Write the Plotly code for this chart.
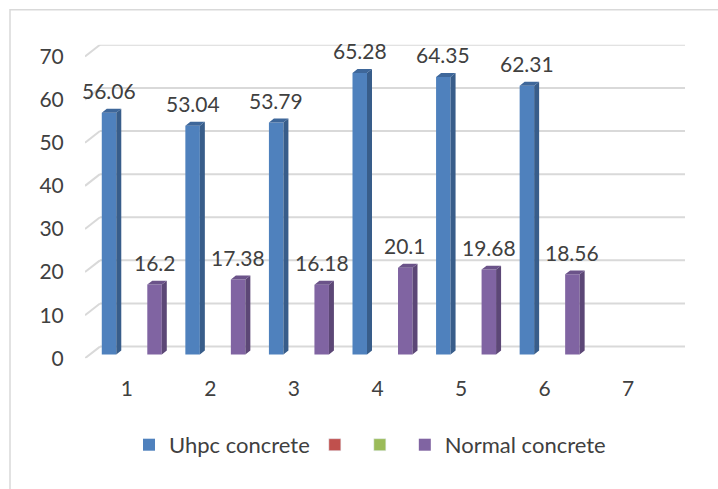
import plotly.graph_objects as go

# ---- data -------------------------------------------------------------
categories = [1, 2, 3, 4, 5, 6, 7]
tick_labels = ["1", "2", "3", "4", "5", "6", "7"]
uhpc_values = [56.06, 53.04, 53.79, 65.28, 64.35, 62.31, None]
normal_values = [16.2, 17.38, 16.18, 20.1, 19.68, 18.56, None]
series2_values = [None, None, None, None, None, None, None]
series3_values = [None, None, None, None, None, None, None]
y_ticks = [0, 10, 20, 30, 40, 50, 60, 70]

# ---- figure geometry (pixels) -----------------------------------------
W, H = 718, 489
front_left, back_right = 85, 685          # x pixels of plot floor
front_zero, back_top = 366, 44            # y pixels of value 0 (front) / 70 (back)
depth_px = (15, 12)                       # floor depth: right / up
bar_plane_px = (5, 4)                     # bars sit part way into the depth

x_min = 0.5
x_max_front = 7.5
px_per_x = (back_right - front_left - depth_px[0]) / (x_max_front - x_min)
px_per_y = (front_zero - (back_top + depth_px[1])) / 70.0

dx_back = depth_px[0] / px_per_x
dy_back = depth_px[1] / px_per_y
dx_bar = bar_plane_px[0] / px_per_x
dy_bar = bar_plane_px[1] / px_per_y

slot = 15.17 / px_per_x                   # width of one series slot
face_w = 14.5 / px_per_x                  # visible front face width
n_series = 4

x_range = [x_min, x_max_front + dx_back]
y_range = [0, 70 + dy_back]

BLUE = ["#4f81bd", "#385d8a", "#3e679a"]      # front, side, top
PURPLE = ["#8064a2", "#5c4776", "#6b5389"]
RED = "#c0504d"
GREEN = "#9bbb59"
TEXT = "#404040"
GRID = "#d9d9d9"
FONT = "Lato"

fig = go.Figure()


def series_offset(idx):
    # centre of series idx inside a category group, shifted into the bar plane
    return (idx - (n_series - 1) / 2) * slot + dx_bar


def add_series(name, values, idx, colors):
    xs = [c for c, v in zip(categories, values) if v is not None]
    ys = [v for v in values if v is not None]
    off = series_offset(idx)
    fig.add_trace(go.Bar(
        x=xs, y=ys, base=[dy_bar] * len(ys), name=name,
        width=face_w, offset=off - face_w / 2,
        marker=dict(color=colors[0], line=dict(width=0)),
        showlegend=True,
    ))
    # right-hand side faces and top caps give the columns their depth
    side_x, side_y, cap_x, cap_y = [], [], [], []
    for c, v in zip(xs, ys):
        xl = c + off - face_w / 2
        xr = c + off + face_w / 2
        b = dy_bar
        t = dy_bar + v
        side_x += [xr, xr + dx_bar, xr + dx_bar, xr, xr, None]
        side_y += [b, b + dy_bar, t + dy_bar, t, b, None]
        cap_x += [xl, xl + dx_bar, xr + dx_bar, xr, xl, None]
        cap_y += [t, t + dy_bar, t + dy_bar, t, t, None]
        fig.add_annotation(
            x=c + off, y=t, xref="x", yref="y", text=f"{v:g}",
            showarrow=False, xanchor="center", yanchor="middle", yshift=22,
            font=dict(family=FONT, size=21, color=TEXT),
        )
    for px, py, col in ((side_x, side_y, colors[1]), (cap_x, cap_y, colors[2])):
        fig.add_trace(go.Scatter(
            x=px, y=py, mode="lines", fill="toself", fillcolor=col,
            line=dict(width=0, color=col), showlegend=False,
            hoverinfo="skip", cliponaxis=False,
        ))


add_series("Uhpc concrete", uhpc_values, 0, BLUE)
fig.add_trace(go.Bar(x=categories, y=series2_values, name="",
                     marker=dict(color=RED), showlegend=True))
fig.add_trace(go.Bar(x=categories, y=series3_values, name="",
                     marker=dict(color=GREEN), showlegend=True))
add_series("Normal concrete", normal_values, 3, PURPLE)

# back-wall gridlines with their receding floor-edge segments
for v in y_ticks:
    fig.add_shape(type="line", xref="x", yref="y", layer="below",
                  x0=x_min, y0=v, x1=x_min + dx_back, y1=v + dy_back,
                  line=dict(color=GRID, width=2))
    fig.add_shape(type="line", xref="x", yref="y", layer="below",
                  x0=x_min + dx_back, y0=v + dy_back,
                  x1=x_max_front + dx_back, y1=v + dy_back,
                  line=dict(color=GRID, width=2))

# chart frame
fig.add_shape(type="rect", xref="paper", yref="paper",
              x0=10 / W, y0=-0.1, x1=1.1, y1=1 - 8 / H,
              line=dict(color=GRID, width=1.5), layer="below")

fig.update_layout(
    width=W, height=H, autosize=False,
    margin=dict(l=0, r=0, t=0, b=0),
    paper_bgcolor="white", plot_bgcolor="rgba(0,0,0,0)",
    barmode="overlay",
    font=dict(family=FONT, size=20, color=TEXT),
    xaxis=dict(
        domain=[front_left / W, back_right / W], range=x_range,
        tickvals=categories, ticktext=tick_labels,
        showgrid=False, zeroline=False, showline=False,
        ticks="outside", ticklen=12, tickcolor="rgba(0,0,0,0)",
        tickfont=dict(family=FONT, size=21, color=TEXT),
    ),
    yaxis=dict(
        domain=[(H - front_zero) / H, (H - back_top) / H], range=y_range,
        tickvals=y_ticks, showgrid=False, zeroline=False, showline=False,
        ticks="outside", ticklen=16, tickcolor="rgba(0,0,0,0)",
        tickfont=dict(family=FONT, size=21, color=TEXT),
    ),
    legend=dict(
        orientation="h", x=129 / W, xanchor="left",
        y=(H - 455) / H, yanchor="middle",
        font=dict(family=FONT, size=22, color=TEXT),
        bgcolor="rgba(0,0,0,0)",
    ),
)

fig.write_html("out.html")
